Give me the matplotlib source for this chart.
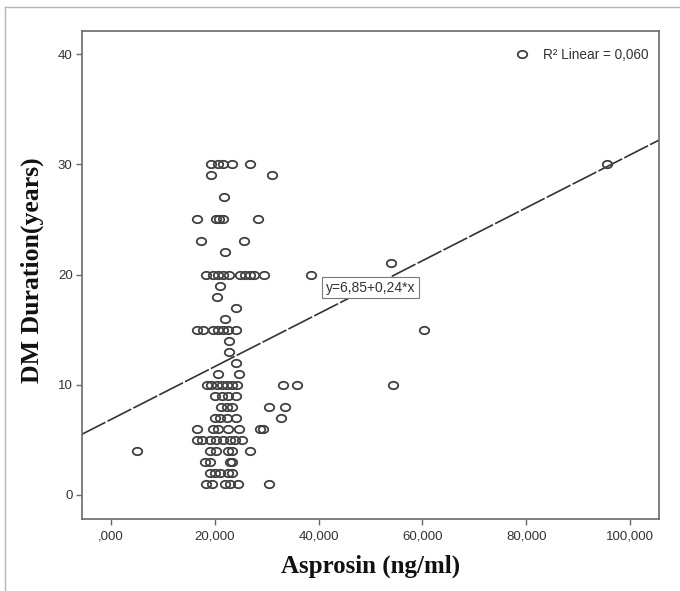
import numpy as np
import matplotlib.pyplot as plt
from matplotlib.path import Path
from matplotlib.lines import Line2D

# Asprosin (ng/ml) and diabetes duration (years) for each patient
asprosin = [
    79.1,
    19.27, 20.56, 21.52, 23.38, 26.79, 95.5,
    19.27, 31.08,
    21.78,
    16.51, 20.18, 20.81, 21.64, 28.39,
    17.34, 25.63,
    21.97,
    53.96,
    18.25, 19.60, 20.56, 21.52, 22.74, 24.86, 25.82, 26.79, 27.56, 29.48, 38.54,
    21.00,
    20.37,
    24.03,
    21.97,
    16.51, 17.67, 19.71, 20.68, 21.64, 22.61, 24.09, 60.32,
    22.80,
    22.80,
    24.09,
    20.68, 24.72,
    18.44, 19.27, 20.37, 21.33, 22.30, 23.26, 24.22, 33.10, 35.90, 54.40,
    20.04, 21.33, 22.61, 24.09,
    21.14, 22.42, 23.26, 30.45, 33.60,
    20.04, 21.00, 22.30, 24.09, 32.70,
    16.51, 19.71, 20.68, 22.61, 24.72, 28.71, 29.35,
    16.51, 17.59, 19.08, 20.23, 21.64, 22.93, 23.90, 25.19,
    5.00, 19.08, 20.23, 22.61, 23.26, 26.79,
    18.11, 19.08, 22.93, 23.32,
    19.08, 20.04, 21.00, 22.61, 23.26,
    18.30, 19.40, 21.97, 22.93, 24.53, 30.51,
]
duration = [
    40,
    30, 30, 30, 30, 30, 30,
    29, 29,
    27,
    25, 25, 25, 25, 25,
    23, 23,
    22,
    21,
    20, 20, 20, 20, 20, 20, 20, 20, 20, 20, 20,
    19,
    18,
    17,
    16,
    15, 15, 15, 15, 15, 15, 15, 15,
    14,
    13,
    12,
    11, 11,
    10, 10, 10, 10, 10, 10, 10, 10, 10, 10,
    9, 9, 9, 9,
    8, 8, 8, 8, 8,
    7, 7, 7, 7, 7,
    6, 6, 6, 6, 6, 6, 6,
    5, 5, 5, 5, 5, 5, 5, 5,
    4, 4, 4, 4, 4, 4,
    3, 3, 3, 3,
    2, 2, 2, 2, 2,
    1, 1, 1, 1, 1, 1,
]

# Linear fit reported for the whole sample
intercept = 6.85
slope = 0.24
fit_label = "y=6,85+0,24*x"
r2_label = "R\u00b2 Linear = 0,060"

xticks = [0, 20, 40, 60, 80, 100]
xtick_labels = [",000", "20,000", "40,000", "60,000", "80,000", "100,000"]
yticks = [0, 10, 20, 30, 40]

W, H = 680, 591
fig = plt.figure(figsize=(W / 100, H / 100), dpi=100)
fig.patch.set_facecolor("white")

# outer chart frame (left and top edges)
fig.add_artist(Line2D([5 / W, 5 / W], [0, 1 - 7 / H], transform=fig.transFigure,
                      color="#b4b4b4", lw=1.0))
fig.add_artist(Line2D([5 / W, 1], [1 - 7 / H, 1 - 7 / H], transform=fig.transFigure,
                      color="#b4b4b4", lw=1.0))

left, right, top, bottom = 81.7, 659, 31, 519
ax = fig.add_axes([left / W, 1 - bottom / H, (right - left) / W, (bottom - top) / H])
ax.set_xlim(-5.645, 105.59)
ax.set_ylim(-2.18, 42.09)

for s in ax.spines.values():
    s.set_color("#6a6a6a")
    s.set_linewidth(1.2)

ax.set_xticks(xticks)
ax.set_xticklabels(xtick_labels)
ax.set_yticks(yticks)
ax.tick_params(axis="both", direction="out", length=4.5, width=1.0, color="#6a6a6a",
               labelsize=9.5, labelcolor="#333333")
ax.tick_params(axis="x", pad=4)
ax.tick_params(axis="y", pad=2)
for lab in ax.get_xticklabels() + ax.get_yticklabels():
    lab.set_fontfamily("Liberation Sans")

# slightly flattened open circle marker
t = np.linspace(0, 2 * np.pi, 64)
ring = Path(np.column_stack([np.cos(t), 0.78 * np.sin(t)]), closed=True)

xs = np.array(ax.get_xlim())
ax.plot(xs, intercept + slope * xs, color="#333333", lw=1.2, dashes=(16, 1.4),
        zorder=2)

ax.plot(asprosin, duration, linestyle="none", marker=ring, markersize=6.8,
        markerfacecolor="none", markeredgecolor="#404040", markeredgewidth=1.3,
        zorder=3)

ax.text(50.0, 18.82, fit_label, ha="center", va="center", fontsize=10,
        family="Liberation Sans", color="#333333", zorder=4,
        bbox=dict(boxstyle="square,pad=0.25", fc="white", ec="#7a7a7a", lw=0.8))

ax.text(83.2, 39.95, r2_label, ha="left", va="center", fontsize=9.8,
        family="Liberation Sans", color="#333333")

fig.text((left + right) / 2 / W, 1 - 566 / H, "Asprosin (ng/ml)", ha="center",
         va="center", fontsize=18, fontweight="bold", family="Liberation Serif",
         color="#111111")
fig.text(32 / W, 1 - 270 / H, "DM Duration(years)", ha="center", va="center",
         rotation=90, fontsize=18.5, fontweight="bold", family="Liberation Serif",
         color="#111111")

fig.savefig("out.png", dpi=100, facecolor="white")
